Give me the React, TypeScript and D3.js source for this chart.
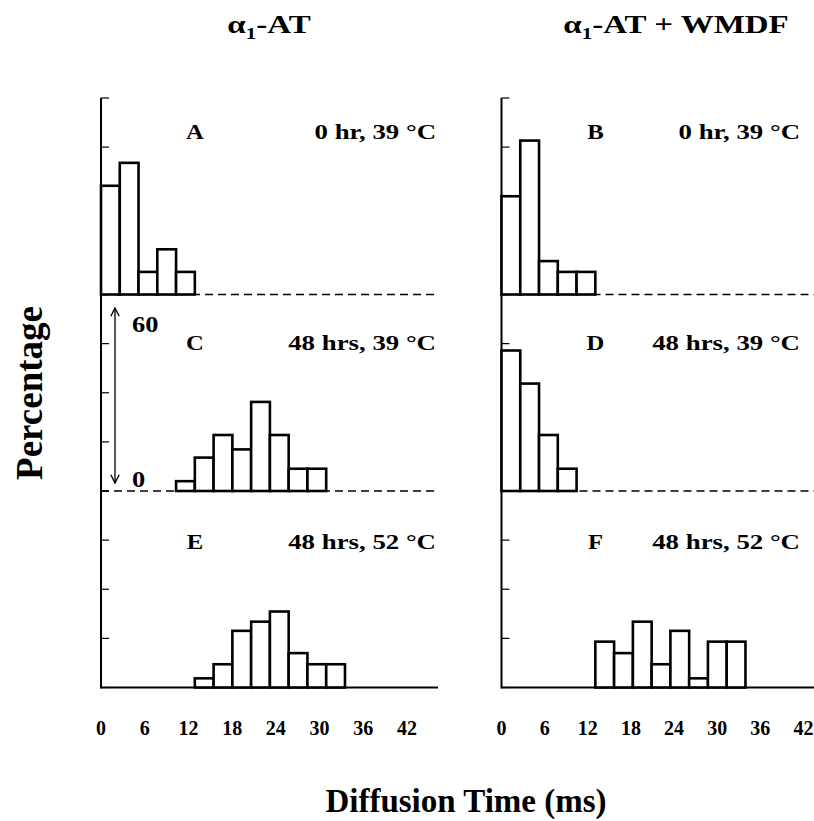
import React from 'react';
import * as d3 from 'd3';

// percentage per bin, bins read left to right
const binWidthMs = 2.61;
const xTicks = [0, 6, 12, 18, 24, 30, 36, 42];
const yTicks = [0, 15, 30, 45, 60];

const panelA = [33.2, 40.2, 6.9, 13.8, 6.9];
const panelB = [30, 47, 10.2, 6.9, 6.9];
const panelC = [3.0, 10.2, 17.1, 12.7, 27.2, 17.1, 6.8, 6.8];
const panelD = [42.9, 32.8, 17.1, 6.8];
const panelE = [2.8, 7.1, 17.3, 20.1, 23.2, 10.5, 7.1, 7.1];
const panelF = [14, 10.5, 20.1, 7.1, 17.3, 2.8, 14, 14];

const panels = [
  { letter: 'A', cond: '0 hr, 39 °C', values: panelA, start: 0, col: 0, row: 0 },
  { letter: 'B', cond: '0 hr, 39 °C', values: panelB, start: 0, col: 1, row: 0 },
  { letter: 'C', cond: '48 hrs, 39 °C', values: panelC, start: 4, col: 0, row: 1 },
  { letter: 'D', cond: '48 hrs, 39 °C', values: panelD, start: 0, col: 1, row: 1 },
  { letter: 'E', cond: '48 hrs, 52 °C', values: panelE, start: 5, col: 0, row: 2 },
  { letter: 'F', cond: '48 hrs, 52 °C', values: panelF, start: 5, col: 1, row: 2 },
];

const colX = [101, 501.5];
const colEnd = [438, 814];
const condEnd = [436, 800];
const tickSpan = [306, 302];
const rowTop = [98, 294.5, 491];
const panelH = 196.5;
const labelY = [139, 350, 549];
const font = '"Liberation Serif", "Times New Roman", serif';

export default function App() {
  const x = d3.scaleLinear().domain([0, 42]).range([0, 302]);
  const y = d3.scaleLinear().domain([0, 60]).range([panelH, 0]);

  return (
    <svg width={814} height={821} style={{ display: 'block', position: 'absolute', left: 0, top: 0 }}
      fontFamily={font} fontWeight="bold">
      <defs>
        <marker id="arr" viewBox="0 0 10 10" refX="9" refY="5" markerWidth="8" markerHeight="8" orient="auto-start-reverse">
          <path d="M1,1 L9,5 L1,9" fill="none" stroke="#000" strokeWidth={1.3} />
        </marker>
      </defs>

      {/* column titles */}
      <g transform="translate(269,33) scale(1.32,1)">
        <text fontSize={25} textAnchor="middle">
          α<tspan fontSize={16} dy={6}>1</tspan><tspan dy={-6}>-AT</tspan>
        </text>
      </g>
      <g transform="translate(676,33) scale(1.32,1)">
        <text fontSize={25} textAnchor="middle">
          α<tspan fontSize={16} dy={6}>1</tspan><tspan dy={-6}>-AT + WMDF</tspan>
        </text>
      </g>

      {[0, 1].map(c => {
        const xt = d3.scaleLinear().domain([0, 42]).range([0, tickSpan[c]]);
        return (
          <g key={c} transform={`translate(${colX[c]},0)`}>
            <line x1={0} x2={0} y1={rowTop[0]} y2={rowTop[2] + panelH + 1} stroke="#000" strokeWidth={2} />
            {rowTop.map((t, r) => (
              <g key={r} transform={`translate(0,${t})`}>
                {yTicks.map(v => (
                  <line key={v} x1={0} x2={8} y1={y(v)} y2={y(v)} stroke="#000" strokeWidth={1.2} />
                ))}
                {r < 2 ? (
                  <line x1={0} x2={colEnd[c] - colX[c]} y1={y(0)} y2={y(0)} stroke="#000" strokeWidth={1.6} strokeDasharray="8,5" />
                ) : (
                  <line x1={0} x2={colEnd[c] - colX[c]} y1={y(0)} y2={y(0)} stroke="#000" strokeWidth={2} />
                )}
              </g>
            ))}
            {xTicks.map(v => (
              <text key={v} x={xt(v)} y={735} fontSize={20} textAnchor="middle">{v}</text>
            ))}
          </g>
        );
      })}

      {panels.map(p => (
        <g key={p.letter} transform={`translate(${colX[p.col]},${rowTop[p.row]})`}>
          {p.values.map((v, i) => {
            const x0 = x((p.start + i) * binWidthMs);
            const x1 = x((p.start + i + 1) * binWidthMs);
            return (
              <rect key={i} x={x0} y={y(v)} width={x1 - x0} height={y(0) - y(v)}
                fill="#fff" stroke="#000" strokeWidth={2.6} />
            );
          })}
          <g transform={`translate(94,${labelY[p.row] - rowTop[p.row]}) scale(1.12,1)`}>
            <text fontSize={22} textAnchor="middle">{p.letter}</text>
          </g>
          <g transform={`translate(${condEnd[p.col] - colX[p.col]},${labelY[p.row] - rowTop[p.row]}) scale(1.22,1)`}>
            <text fontSize={22} textAnchor="end">{p.cond}</text>
          </g>
        </g>
      ))}

      {/* scale arrow in panel C */}
      <line x1={115} x2={115} y1={308} y2={483} stroke="#000" strokeWidth={1.3}
        markerStart="url(#arr)" markerEnd="url(#arr)" />
      <g transform="translate(132,332) scale(1.15,1)"><text fontSize={23}>60</text></g>
      <g transform="translate(132,487) scale(1.15,1)"><text fontSize={23}>0</text></g>

      <text transform="translate(42,393) rotate(-90)" fontSize={37} textAnchor="middle">Percentage</text>
      <text x={466} y={812} fontSize={33} textAnchor="middle">Diffusion Time (ms)</text>
    </svg>
  );
}
